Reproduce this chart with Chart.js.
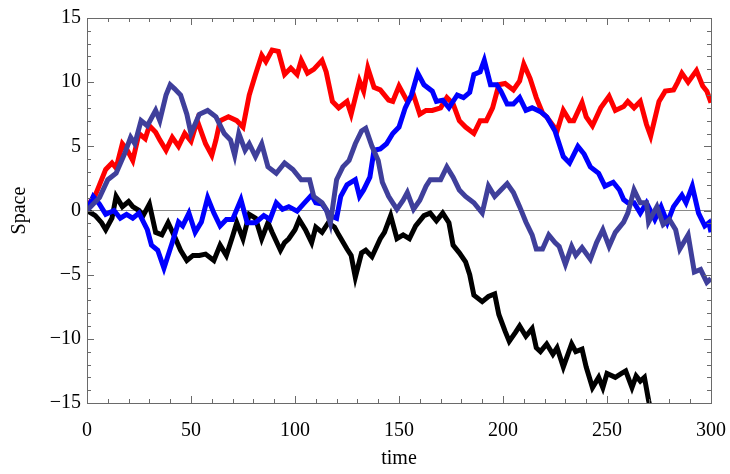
<!DOCTYPE html>
<html>
<head>
<meta charset="utf-8">
<title>Random walks</title>
<script src="https://cdn.jsdelivr.net/npm/chart.js@4.4.1/dist/chart.umd.min.js"></script>
<style>
    html, body { margin: 0; padding: 0; background: #fff; }
    #walkChart { display: block; }
</style>
</head>
<body>
<canvas id="walkChart" width="730" height="474"></canvas>
<script>
// Series: time / space pairs per walk
const redTime = [0, 2, 4, 6, 9, 12, 14, 17, 19, 22, 25, 28, 30, 33, 35, 38, 41, 44, 47, 50, 53, 57, 60, 62, 64, 68, 72, 75, 78, 81, 84, 86, 89, 92, 95, 98, 101, 103, 106, 109, 113, 115, 118, 121, 125, 127, 131, 133, 135, 138, 141, 145, 147, 150, 154, 157, 160, 163, 166, 170, 173, 176, 179, 182, 186, 189, 192, 195, 198, 201, 205, 208, 210, 213, 216, 219, 221, 226, 229, 232, 234, 238, 240, 243, 247, 251, 254, 258, 260, 263, 266, 269, 271, 275, 278, 282, 284, 286, 289, 293, 296, 298, 300];
const redSpace = [0, 0.8, 1.2, 2.0, 3.2, 3.7, 3.3, 5.2, 4.8, 3.9, 6.0, 5.6, 6.6, 6.1, 5.5, 4.7, 5.7, 5.0, 6.0, 5.4, 7.0, 5.2, 4.3, 5.5, 7.0, 7.3, 7.0, 6.5, 9.0, 10.6, 12.1, 11.6, 12.5, 12.4, 10.6, 11.1, 10.6, 11.7, 10.7, 11.0, 11.7, 10.8, 8.5, 8.0, 8.5, 7.5, 10.1, 9.3, 11.1, 9.6, 9.4, 8.6, 8.5, 9.7, 8.5, 9.0, 7.5, 7.8, 7.8, 8.0, 8.8, 8.3, 7.0, 6.5, 6.0, 7.0, 7.0, 8.0, 9.8, 9.9, 9.4, 10.1, 11.4, 10.3, 8.8, 7.6, 7.3, 6.2, 7.8, 7.0, 7.0, 8.4, 7.3, 6.6, 8.0, 8.9, 7.8, 8.1, 8.5, 8.0, 8.5, 6.7, 5.8, 8.5, 9.3, 9.4, 10.0, 10.7, 10.0, 10.9, 9.7, 9.3, 8.4];

const slateTime = [0, 3, 6, 10, 14, 18, 21, 23, 26, 29, 33, 35, 38, 40, 42, 45, 48, 50, 54, 58, 62, 66, 69, 71, 73, 76, 78, 81, 84, 87, 91, 95, 99, 103, 107, 109, 113, 115, 117, 120, 123, 126, 129, 132, 134, 137, 140, 142, 145, 147, 149, 152, 154, 157, 160, 163, 165, 170, 173, 176, 179, 182, 186, 190, 193, 196, 199, 202, 205, 208, 211, 214, 216, 219, 222, 225, 227, 230, 233, 235, 238, 242, 245, 248, 251, 254, 258, 260, 263, 266, 269, 270, 274, 277, 280, 283, 285, 289, 292, 295, 298, 300];
const slateSpace = [0, 0.5, 1.0, 2.4, 2.9, 4.4, 5.7, 5.2, 7.0, 6.6, 7.8, 7.0, 9.0, 9.8, 9.5, 9.0, 7.5, 6.0, 7.5, 7.8, 7.3, 6.0, 5.5, 4.3, 6.0, 4.7, 5.2, 4.2, 5.2, 3.4, 2.9, 3.7, 3.2, 2.4, 2.4, 1.1, 0.6, 0.1, -1.0, 2.4, 3.4, 3.9, 5.2, 6.2, 6.4, 5.0, 3.9, 2.2, 1.1, 0.6, 0.1, 0.8, 1.4, 0.1, 0.8, 1.9, 2.4, 2.4, 3.4, 2.6, 1.6, 1.1, 0.6, -0.2, 1.9, 1.1, 1.6, 2.1, 1.4, 0.3, -0.9, -1.9, -3.0, -3.0, -1.9, -2.5, -2.8, -4.2, -2.8, -3.5, -2.9, -3.8, -2.5, -1.5, -2.8, -1.7, -0.9, -0.2, 1.6, 0.6, 0.6, -0.9, 0.3, -1.1, -0.7, -1.5, -3.0, -1.9, -4.8, -4.6, -5.6, -5.3];

const blueTime = [0, 3, 6, 9, 13, 16, 19, 22, 25, 29, 31, 34, 37, 41, 44, 46, 49, 52, 55, 58, 61, 64, 67, 70, 74, 77, 81, 85, 88, 91, 94, 97, 101, 104, 108, 110, 113, 117, 120, 122, 125, 129, 131, 133, 136, 138, 141, 144, 147, 150, 153, 156, 159, 162, 166, 168, 171, 174, 178, 181, 184, 186, 189, 191, 194, 197, 199, 202, 205, 208, 211, 214, 218, 221, 225, 229, 232, 236, 239, 242, 246, 249, 253, 256, 258, 260, 263, 266, 269, 273, 276, 279, 282, 286, 288, 291, 294, 297, 299, 300];
const blueSpace = [0, 1.1, 0.5, -0.3, 0, -0.6, -0.3, -0.6, -0.2, -1.5, -2.7, -3.1, -4.5, -2.5, -0.9, -1.2, -0.2, -1.7, -0.9, 1.0, -0.2, -1.2, -0.7, -0.7, 0.85, -0.95, -0.95, -0.4, -0.7, 0.6, 0.1, 0.3, -0.05, 0.5, 1.2, 0.6, 0.5, -0.4, -0.6, 1.1, 2.0, 2.4, 1.1, 1.6, 2.6, 4.7, 4.8, 5.2, 6.0, 6.5, 8.0, 9.0, 10.7, 9.8, 9.3, 8.5, 8.6, 8.0, 9.0, 8.8, 9.2, 10.6, 10.8, 11.7, 9.8, 9.8, 9.3, 8.3, 8.3, 8.8, 7.8, 8.0, 7.7, 7.3, 6.2, 4.2, 3.7, 5.0, 4.4, 3.4, 2.9, 1.9, 2.2, 1.6, 0.85, 0.6, 0.6, -0.2, 0.6, -0.7, 0.3, -0.95, 0.3, 1.2, 0.6, 1.9, -0.2, -1.2, -0.95, -1.7];

const blackTime = [0, 4, 7, 9, 12, 14, 17, 20, 22, 25, 27, 30, 33, 36, 39, 42, 45, 48, 51, 54, 57, 61, 64, 67, 70, 72, 75, 78, 81, 84, 87, 89, 93, 95, 97, 100, 102, 105, 108, 110, 113, 116, 119, 121, 125, 127, 129, 132, 134, 137, 141, 143, 146, 149, 152, 155, 158, 162, 165, 168, 171, 174, 176, 179, 182, 184, 186, 190, 193, 196, 198, 201, 203, 206, 208, 211, 214, 216, 218, 221, 224, 226, 229, 233, 235, 238, 240, 243, 246, 248, 250, 254, 257, 259, 262, 264, 266, 268, 270, 273];
const blackSpace = [0, -0.4, -0.95, -1.5, -0.6, 1.1, 0.3, 0.7, 0.3, 0, -0.4, 0.5, -1.7, -1.9, -0.95, -2.0, -3.1, -3.9, -3.5, -3.5, -3.4, -3.9, -2.7, -3.5, -2.0, -0.95, -2.2, -0.3, -0.6, -2.2, -0.95, -1.7, -3.1, -2.5, -2.2, -1.5, -0.7, -1.5, -2.5, -1.3, -1.7, -0.95, -1.3, -1.9, -3.0, -3.5, -5.2, -3.3, -3.1, -3.6, -2.2, -1.7, -0.4, -2.2, -1.9, -2.2, -1.2, -0.4, -0.2, -0.8, -0.2, -0.95, -2.7, -3.3, -4.0, -5.0, -6.6, -7.1, -6.7, -6.5, -8.1, -9.4, -10.2, -9.5, -9.0, -9.8, -9.2, -10.7, -11.0, -10.4, -11.2, -10.7, -12.2, -10.4, -11.0, -10.8, -12.2, -13.8, -13.0, -13.8, -12.7, -13.0, -12.7, -12.5, -13.8, -12.9, -13.3, -13.0, -14.8, -17];

// Axis ranges and tick spacing
const timeRange = [0, 300];
const spaceRange = [-15, 15];
const timeMajor = 50, timeMinor = 10;
const spaceMajor = 5, spaceMinor = 1;

(function() {
    'use strict';

    const SERIF = "'Liberation Serif', 'DejaVu Serif', serif";
    const FRAME_COLOR = '#6a6a6a';

    /**
     * Zip two arrays into {x, y} points for a linear x axis
     */
    function toPoints(times, values) {
        return times.map((t, i) => ({ x: t, y: values[i] }));
    }

    function walk(label, times, values, color) {
        return {
            label: label,
            data: toPoints(times, values),
            borderColor: color,
            borderWidth: 5,
            pointRadius: 0,
            tension: 0,
            fill: false
        };
    }

    /**
     * Mathematica-style frame: box round the plot with inward ticks on all sides
     */
    const framePlugin = {
        id: 'frameTicks',
        afterDraw(chart) {
            const { ctx, chartArea: a, scales } = chart;
            const xs = scales.x, ys = scales.y;
            ctx.save();
            ctx.strokeStyle = FRAME_COLOR;
            ctx.lineWidth = 1;
            ctx.strokeRect(Math.round(a.left) + 0.5, Math.round(a.top) + 0.5,
                Math.round(a.right - a.left), Math.round(a.bottom - a.top));

            ctx.beginPath();
            for (let t = timeRange[0]; t <= timeRange[1]; t += timeMinor) {
                const len = t % timeMajor === 0 ? 7 : 4;
                const px = Math.round(xs.getPixelForValue(t)) + 0.5;
                ctx.moveTo(px, a.bottom); ctx.lineTo(px, a.bottom - len);
                ctx.moveTo(px, a.top); ctx.lineTo(px, a.top + len);
            }
            for (let v = spaceRange[0]; v <= spaceRange[1]; v += spaceMinor) {
                const len = v % spaceMajor === 0 ? 7 : 4;
                const py = Math.round(ys.getPixelForValue(v)) + 0.5;
                ctx.moveTo(a.left, py); ctx.lineTo(a.left + len, py);
                ctx.moveTo(a.right, py); ctx.lineTo(a.right - len, py);
            }
            ctx.stroke();
            ctx.restore();
        }
    };

    function initWalkChart() {
        const canvas = document.getElementById('walkChart');
        if (!canvas) return;

        new Chart(canvas.getContext('2d'), {
            type: 'line',
            data: {
                datasets: [
                    walk('slate', slateTime, slateSpace, '#3f3f9b'),
                    walk('blue', blueTime, blueSpace, '#0000ff'),
                    walk('red', redTime, redSpace, '#ff0000'),
                    walk('black', blackTime, blackSpace, '#000000')
                ]
            },
            options: {
                responsive: false,
                animation: false,
                devicePixelRatio: 1,
                layout: { padding: { top: 17, right: 19, left: 0, bottom: 0 } },
                plugins: {
                    legend: { display: false },
                    tooltip: { enabled: false }
                },
                scales: {
                    x: {
                        type: 'linear',
                        min: timeRange[0],
                        max: timeRange[1],
                        grid: { display: false },
                        border: { display: false },
                        ticks: {
                            stepSize: timeMajor,
                            padding: 8,
                            color: '#000',
                            font: { family: SERIF, size: 20 }
                        },
                        title: {
                            display: true,
                            text: 'time',
                            color: '#000',
                            padding: { top: 0, bottom: 3 },
                            font: { family: SERIF, size: 20 }
                        },
                        afterFit(scale) {
                            scale.height = 71;
                            // let the layout padding decide the right edge, not the "300" overhang
                            scale.paddingRight = 0;
                            scale.paddingLeft = 0;
                        }
                    },
                    y: {
                        min: spaceRange[0],
                        max: spaceRange[1],
                        grid: {
                            drawTicks: false,
                            lineWidth: 1,
                            // only the zero line shows
                            color: c => (c.tick && c.tick.value === 0 ? '#8a8a8a' : 'rgba(0,0,0,0)')
                        },
                        border: { display: false },
                        ticks: {
                            stepSize: spaceMajor,
                            padding: 6,
                            color: '#000',
                            font: { family: SERIF, size: 20 },
                            callback: v => String(v).replace('-', '\u2212')
                        },
                        title: {
                            display: true,
                            text: 'Space',
                            color: '#000',
                            padding: { top: 8, bottom: 0 },
                            font: { family: SERIF, size: 20 }
                        },
                        afterFit(scale) { scale.width = 87; }
                    }
                }
            },
            plugins: [framePlugin]
        });
    }

    document.addEventListener('DOMContentLoaded', initWalkChart);
})();
</script>
</body>
</html>
